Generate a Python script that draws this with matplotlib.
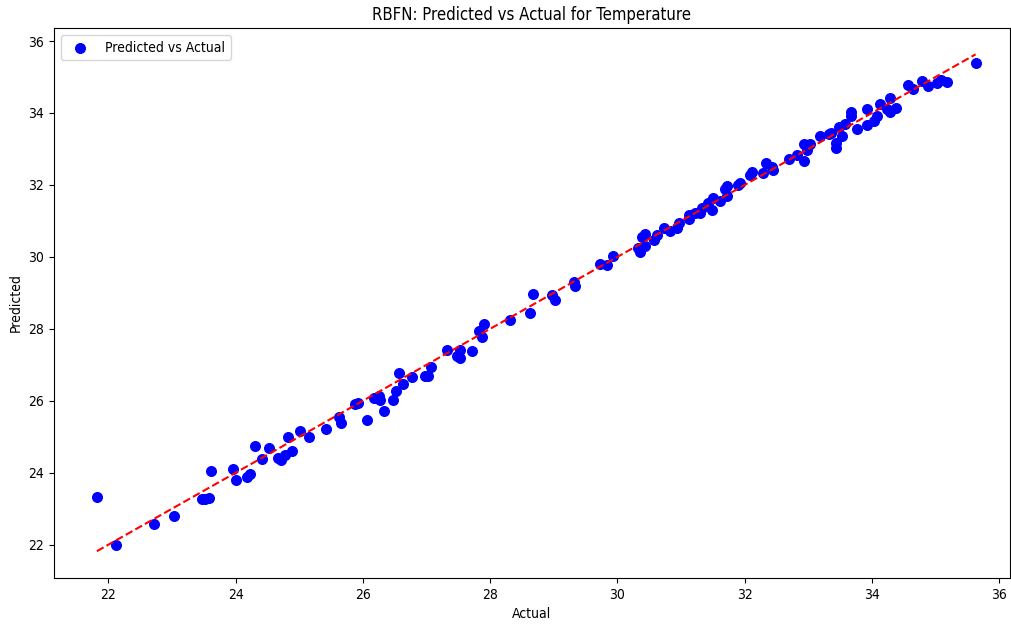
import numpy as np
import matplotlib.pyplot as plt

plt.rcParams["font.stretch"] = "condensed"

# values
actual = [21.82, 22.12, 22.72, 23.03, 23.47, 23.52, 23.58, 23.61, 23.96, 24.01,
          24.18, 24.22, 24.31, 24.41, 24.52, 24.67, 24.71, 24.78, 24.88, 24.82,
          25.02, 25.16, 25.42, 25.62, 25.66, 25.87, 25.92, 26.06, 26.17, 26.25,
          26.27, 26.33, 26.47, 26.52, 26.57, 26.63, 26.77, 26.97, 27.03, 27.07,
          27.32, 27.48, 27.52, 27.53, 27.71, 27.82, 27.88, 27.91, 28.32, 28.62,
          28.67, 28.97, 29.02, 29.32, 29.33, 29.73, 29.83, 29.93, 30.33, 30.35,
          30.38, 30.44, 30.43, 30.57, 30.62, 30.73, 30.83, 30.93, 30.97, 31.12,
          31.13, 31.22, 31.30, 31.33, 31.42, 31.49, 31.51, 31.62, 31.69, 31.72,
          31.73, 31.89, 31.93, 32.08, 32.11, 32.29, 32.33, 32.43, 32.44, 32.69,
          32.82, 32.93, 32.94, 33.02, 32.98, 33.18, 33.35, 33.32, 33.43, 33.43,
          33.53, 33.48, 33.58, 33.67, 33.67, 33.77, 33.93, 33.93, 34.04, 34.08,
          34.13, 34.28, 34.24, 34.28, 34.38, 34.57, 34.64, 34.78, 34.88, 35.02,
          35.08, 35.18, 35.63]
predicted = [23.34, 21.99, 22.58, 22.81, 23.27, 23.27, 23.29, 24.05, 24.10, 23.80,
             23.88, 23.97, 24.75, 24.38, 24.69, 24.41, 24.36, 24.50, 24.60, 25.00,
             25.17, 25.00, 25.22, 25.55, 25.38, 25.91, 25.95, 25.47, 26.07, 26.12,
             26.01, 25.72, 26.01, 26.28, 26.77, 26.47, 26.66, 26.68, 26.68, 26.94,
             27.42, 27.25, 27.18, 27.42, 27.39, 27.93, 27.76, 28.14, 28.25, 28.44,
             28.96, 28.94, 28.79, 29.29, 29.18, 29.81, 29.78, 30.03, 30.24, 30.15,
             30.56, 30.63, 30.29, 30.47, 30.61, 30.81, 30.72, 30.79, 30.95, 31.04,
             31.17, 31.21, 31.23, 31.35, 31.49, 31.31, 31.63, 31.54, 31.88, 31.97,
             31.70, 32.00, 32.06, 32.28, 32.37, 32.32, 32.62, 32.51, 32.42, 32.72,
             32.83, 32.67, 33.13, 33.13, 32.97, 33.36, 33.43, 33.42, 33.16, 33.02,
             33.37, 33.62, 33.69, 33.92, 34.04, 33.56, 33.67, 34.10, 33.79, 33.92,
             34.25, 34.43, 34.10, 34.04, 34.15, 34.78, 34.66, 34.90, 34.75, 34.84,
             34.93, 34.87, 35.40]

actual = np.array(actual)
predicted = np.array(predicted)

fig = plt.figure(figsize=(10.11, 6.24), dpi=100)
ax = fig.add_axes([0.053, 0.074, 0.946, 0.881])

ax.scatter(actual, predicted, color="blue", s=48, label="Predicted vs Actual")
ax.plot([actual.min(), actual.max()], [actual.min(), actual.max()], "r--")

ax.set_xlim(21.14, 36.17)
ax.set_ylim(21.08, 36.36)
ax.set_xlabel("Actual")
ax.set_ylabel("Predicted")
ax.set_title("RBFN: Predicted vs Actual for Temperature")
ax.legend(loc="upper left")

fig.savefig("out.png", dpi=100)
